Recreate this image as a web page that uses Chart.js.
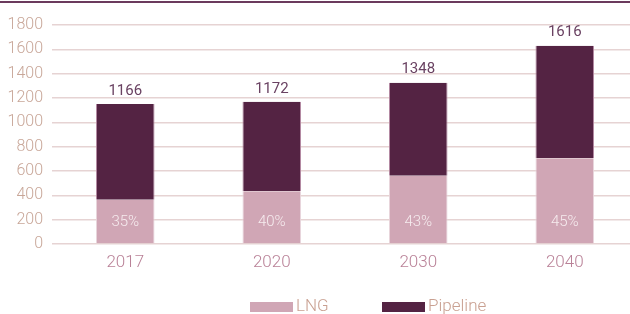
<!DOCTYPE html>
<html>
<head>
<meta charset="utf-8">
<script src="https://cdn.jsdelivr.net/npm/chart.js@4"></script>
<style>
  html, body { margin: 0; padding: 0; background: #fff; overflow: hidden; }
  #wrap { position: relative; width: 638px; height: 314px; }
  #topline { position: absolute; left: 0; top: 1px; width: 630px; height: 0; border-top: 2px solid #6b3a5d; }
</style>
</head>
<body>
<div id="wrap">
  <canvas id="chart" width="638" height="314"></canvas>
  <div id="topline"></div>
</div>
<script>
// data
const years = ['2017', '2020', '2030', '2040'];
const lng = [364, 434, 561, 705];
const pipeline = [786, 735, 765, 925];
const totalLabels = ['1166', '1172', '1348', '1616'];
const shareLabels = ['35%', '40%', '43%', '45%'];
const yTicks = [0, 200, 400, 600, 800, 1000, 1200, 1400, 1600, 1800];

const FONT = 'Roboto';

// totals above the bars, LNG share inside, and the legend at the bottom
const barLabels = {
  id: 'barLabels',
  afterDatasetsDraw(chart) {
    const ctx = chart.ctx;
    const y = chart.scales.y;
    const top = chart.getDatasetMeta(1).data;
    ctx.save();
    ctx.textAlign = 'center';
    ctx.textBaseline = 'middle';
    top.forEach((bar, i) => {
      ctx.font = '400 15px ' + FONT;
      ctx.fillStyle = '#6a4262';
      ctx.fillText(totalLabels[i], bar.x, bar.y - 13);
      ctx.font = '300 15px ' + FONT;
      ctx.fillStyle = '#f6ecef';
      ctx.fillText(shareLabels[i], bar.x, y.getPixelForValue(175));
    });

    // legend
    const items = [
      { x: 250, ds: chart.data.datasets[0] },
      { x: 382, ds: chart.data.datasets[1] }
    ];
    ctx.textAlign = 'left';
    ctx.font = '300 17px ' + FONT;
    items.forEach(it => {
      ctx.fillStyle = it.ds.backgroundColor;
      ctx.fillRect(it.x, 302, 43, 10);
      ctx.fillStyle = '#c9a091';
      ctx.fillText(it.ds.label, it.x + 46, 307);
    });
    ctx.restore();
  }
};

new Chart(document.getElementById('chart'), {
  type: 'bar',
  data: {
    labels: years,
    datasets: [
      {
        label: 'LNG',
        data: lng,
        backgroundColor: '#d0a6b5',
        borderColor: '#e8d5dc',
        borderWidth: { left: 1, right: 1, top: 0, bottom: 0 },
        borderSkipped: false,
        barPercentage: 0.4,
        categoryPercentage: 1
      },
      {
        label: 'Pipeline',
        data: pipeline,
        backgroundColor: '#542343',
        borderColor: '#b58aa3',
        borderWidth: { left: 1, right: 1, top: 0, bottom: 0 },
        borderSkipped: false,
        barPercentage: 0.4,
        categoryPercentage: 1
      }
    ]
  },
  options: {
    responsive: false,
    animation: false,
    layout: { padding: { top: 25, right: 0, bottom: 30, left: 0 } },
    scales: {
      x: {
        stacked: true,
        grid: { display: false },
        border: { display: false },
        afterFit(axis) { axis.height = 40; },
        ticks: { color: '#b98197', font: { family: FONT, size: 17, weight: '300' }, padding: 1 }
      },
      y: {
        stacked: true,
        min: 0,
        max: 1800,
        afterBuildTicks(axis) { axis.ticks = yTicks.map(v => ({ value: v })); },
        afterFit(axis) { axis.width = 52; },
        grid: { color: '#e6d3d3', lineWidth: 1.5, drawTicks: false },
        border: { display: false },
        ticks: {
          autoSkip: false,
          color: '#c8a698',
          font: { family: FONT, size: 16, weight: '300' },
          padding: 9,
          callback: v => String(v)
        }
      }
    },
    plugins: {
      tooltip: { enabled: false },
      legend: { display: false }
    }
  },
  plugins: [barLabels]
});
</script>
</body>
</html>
